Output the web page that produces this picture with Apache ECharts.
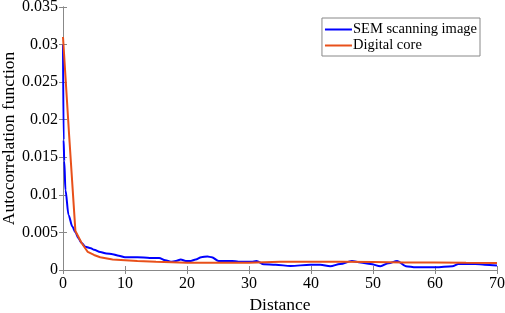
<!DOCTYPE html>
<html>
<head>
<meta charset="utf-8">
<script src="https://cdn.jsdelivr.net/npm/echarts@6/dist/echarts.min.js"></script>
<style>
  html, body { margin: 0; padding: 0; background: #fff; }
  #main { width: 505px; height: 313px; }
</style>
</head>
<body>
<div id="main"></div>
<script>
// SEM scanning image
var semX = [0, 0.1, 0.2, 0.4, 0.9, 1.5, 2, 2.5, 3, 3.6, 4.5, 5, 6, 7, 8, 9, 10, 12, 14, 15.5, 16.5, 17.4, 18.2, 19, 19.8, 20.6, 21.4, 22.3, 23.3, 24, 25.1, 26.3, 27.3, 28.3, 29.4, 30.4, 31.2, 32.4, 34.3, 36.7, 39.9, 41.5, 43.1, 44.7, 46.6, 48, 49.6, 51.2, 52.5, 53.9, 55.3, 56.9, 60.1, 62.8, 63.8, 66.5, 68, 70];
var semY = [0.030, 0.0173, 0.0145, 0.0106, 0.0073, 0.0058, 0.005, 0.0042, 0.0036, 0.0031, 0.0029, 0.0027, 0.0024, 0.0022, 0.0021, 0.0019, 0.0017, 0.0017, 0.0016, 0.0016, 0.0013, 0.0011, 0.0012, 0.0014, 0.0012, 0.0012, 0.0014, 0.0017, 0.0018, 0.0017, 0.0012, 0.0012, 0.0012, 0.0011, 0.0011, 0.0011, 0.0012, 0.00075, 0.0007, 0.00053, 0.0007, 0.0007, 0.0005, 0.0008, 0.0012, 0.001, 0.0008, 0.0005, 0.0009, 0.0012, 0.0005, 0.00036, 0.00036, 0.0005, 0.0008, 0.0008, 0.0007, 0.0006];

// Digital core
var coreX = [0, 1, 2, 3, 4, 5, 6, 8, 10, 12, 15, 20, 25, 30, 35, 40, 45, 50, 55, 60, 65, 70];
var coreY = [0.031, 0.0178, 0.0052, 0.0036, 0.0024, 0.002, 0.0017, 0.0014, 0.0013, 0.0012, 0.0011, 0.00098, 0.00095, 0.00097, 0.0011, 0.0011, 0.0011, 0.00105, 0.001, 0.001, 0.00095, 0.00092];

var seriesNames = ['SEM scanning image', 'Digital core'];

function pairs(xs, ys) {
  return xs.map(function (x, i) { return [x, ys[i]]; });
}

var font = 'Liberation Serif';
var axisGrey = '#888888';

var chart = echarts.init(document.getElementById('main'));
var option = {
  animation: false,
  grid: { left: 63, right: 8, top: 7, bottom: 43, outerBoundsMode: 'none', containLabel: false },
  legend: {
    orient: 'vertical',
    right: 25,
    top: 18,
    data: seriesNames,
    icon: 'rect',
    itemWidth: 27,
    itemHeight: 2,
    itemGap: 1,
    backgroundColor: '#fff',
    borderColor: axisGrey,
    borderWidth: 1,
    borderRadius: 0,
    padding: [4, 3, 3, 3],
    textStyle: { fontFamily: font, fontSize: 14.5, color: '#000', padding: [0, 0, 0, -4] }
  },
  xAxis: [
    {
      type: 'value', min: 0, max: 70, interval: 10,
      name: 'Distance', nameLocation: 'middle', nameGap: 26, nameMoveOverlap: false,
      nameTextStyle: { fontFamily: font, fontSize: 17.5, color: '#000' },
      axisLine: { lineStyle: { color: axisGrey } },
      axisTick: { inside: true, length: 4, lineStyle: { color: axisGrey } },
      axisLabel: { fontFamily: font, fontSize: 16, color: '#000', margin: 6 },
      splitLine: { show: false }
    },
    {
      type: 'value', min: 0, max: 70, interval: 10, position: 'top',
      axisLine: { lineStyle: { color: axisGrey } },
      axisTick: { inside: true, length: 4, lineStyle: { color: axisGrey } },
      axisLabel: { show: false },
      splitLine: { show: false }
    }
  ],
  yAxis: [
    {
      type: 'value', min: 0, max: 0.035, interval: 0.005,
      name: 'Autocorrelation function', nameLocation: 'middle', nameGap: 45, nameMoveOverlap: false,
      nameTextStyle: { fontFamily: font, fontSize: 17.5, color: '#000' },
      axisLine: { show: true, lineStyle: { color: axisGrey } },
      axisTick: { show: true, inside: true, length: 4, lineStyle: { color: axisGrey } },
      axisLabel: { fontFamily: font, fontSize: 16, color: '#000', margin: 5 },
      splitLine: { show: false }
    },
    {
      type: 'value', min: 0, max: 0.035, interval: 0.005, position: 'right',
      axisLine: { show: true, lineStyle: { color: axisGrey } },
      axisTick: { show: true, inside: true, length: 4, lineStyle: { color: axisGrey } },
      axisLabel: { show: false },
      splitLine: { show: false }
    }
  ],
  series: [
    {
      name: seriesNames[0],
      type: 'line',
      data: pairs(semX, semY),
      showSymbol: false,
      smooth: 0.3,
      smoothMonotone: 'x',
      color: '#0000ff',
      lineStyle: { width: 2, color: '#0000ff' },
      z: 2
    },
    {
      name: seriesNames[1],
      type: 'line',
      data: pairs(coreX, coreY),
      showSymbol: false,
      smooth: false,
      color: '#e8501a',
      lineStyle: { width: 2, color: '#e8501a' },
      z: 3
    }
  ]
};
chart.setOption(option);
</script>
</body>
</html>
